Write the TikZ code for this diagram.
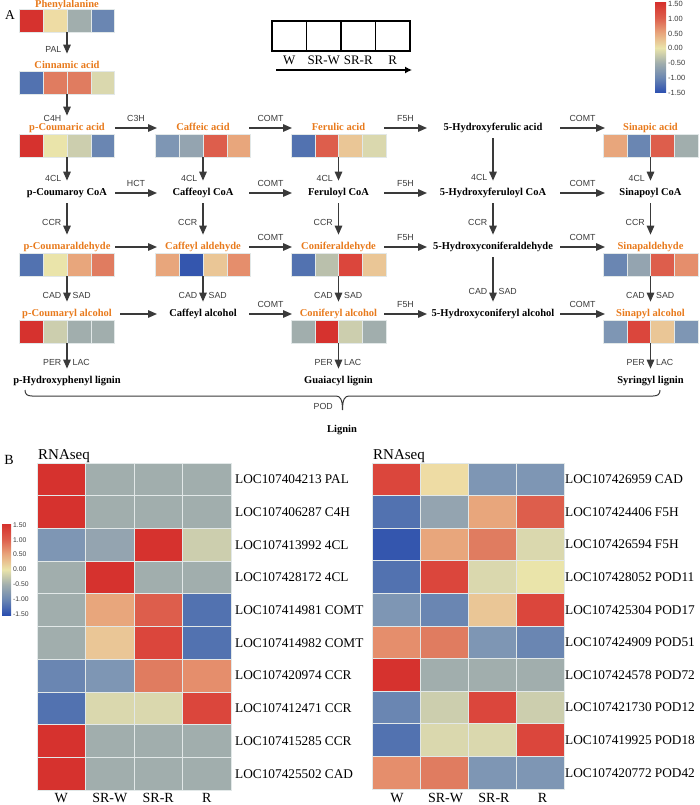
\documentclass[tikz,border=0pt]{standalone}
\usepackage{fontspec}
\setmainfont{Liberation Serif}
\newfontfamily\enzfont{Liberation Sans}
\usetikzlibrary{arrows.meta,calc}

% heat map palette
\definecolor{hR}{RGB}{214,50,46}
\definecolor{hRr}{RGB}{219,70,60}
\definecolor{hRo}{RGB}{221,94,76}
\definecolor{hS}{RGB}{224,124,96}
\definecolor{hSl}{RGB}{229,142,108}
\definecolor{hP}{RGB}{232,166,124}
\definecolor{hLp}{RGB}{234,198,150}
\definecolor{hLy}{RGB}{238,220,164}
\definecolor{hY}{RGB}{234,228,170}
\definecolor{hO}{RGB}{218,216,174}
\definecolor{hOg}{RGB}{204,206,174}
\definecolor{hGo}{RGB}{186,192,172}
\definecolor{hG}{RGB}{161,174,173}
\definecolor{hGb}{RGB}{148,164,176}
\definecolor{hBg}{RGB}{126,150,180}
\definecolor{hBm}{RGB}{106,134,178}
\definecolor{hB}{RGB}{82,114,176}
\definecolor{hBd}{RGB}{52,86,174}
\definecolor{hBx}{RGB}{42,78,176}
\definecolor{cellgap}{RGB}{226,232,232}
\definecolor{orangetxt}{RGB}{232,122,28}
\definecolor{arrowgrey}{RGB}{58,58,58}

\pgfdeclareverticalshading{heatbar}{100bp}{color(0bp)=(hBx); color(25bp)=(hBx);
  color(33.33bp)=(hBm); color(41.67bp)=(hG); color(50bp)=(hY); color(58.33bp)=(hP);
  color(66.67bp)=(hRo); color(75bp)=(hR); color(100bp)=(hR)}

% one row of four coloured cells under a compound name
\newcommand{\hstrip}[7]{%
  \node[stripbox] (#1) at (#2,#3) {};
  \foreach \col [count=\k from 0] in {#4,#5,#6,#7}
    \filldraw[fill=\col,draw=cellgap,line width=0.4pt] (#1.north west) ++(\k*23.75,0) rectangle ++(23.75,23);
}

\begin{document}
\begin{tikzpicture}[x=1pt,y=-1pt,>={Triangle[length=9pt,width=7.5pt]},
  flow/.style={->,line width=1.4pt,draw=arrowgrey},
  totitle/.style={shorten >=7.5pt},
  fromtitle/.style={shorten <=5.5pt},
  title/.style={font=\fontsize{10.5}{12}\selectfont\bfseries,text=orangetxt,inner sep=0pt,text height=7pt,text depth=2.3pt},
  cpd/.style={title,text=black},
  enz/.style={font=\enzfont\fontsize{8.8}{10}\selectfont,text=arrowgrey,inner sep=0pt},
  stripbox/.style={anchor=north,minimum width=95pt,minimum height=23pt,inner sep=0pt,outer sep=0pt},
  legcell/.style={draw,line width=1.2pt,minimum width=34.5pt,minimum height=30pt,anchor=north west,inner sep=0pt,outer sep=0pt},
  legtxt/.style={font=\fontsize{13}{15}\selectfont,inner sep=0pt},
  gene/.style={font=\fontsize{13.3}{15}\selectfont,anchor=west,inner sep=0pt},
  coltxt/.style={font=\fontsize{14}{16}\selectfont,anchor=base,inner sep=0pt},
  bartxt/.style={font=\enzfont\fontsize{7.5}{8}\selectfont,anchor=west,inner sep=0pt,text=arrowgrey},
  cell/.style={draw=cellgap,line width=0.8pt}]

\useasboundingbox (0,0) rectangle (699,805);

%----------------------------------------
% Panel A
%----------------------------------------
\node[font=\fontsize{13.5}{15}\selectfont] (pA) at (10,15) {A};

% legend of the four samples
\foreach \lab [count=\k from 0] in {W,SR-W,SR-R,R} {
  \node[legcell] (lg\k) at (272+\k*34.5,21) {};
  \node[legtxt] (lt\k) at ($(lg\k.south)+(0,9)$) {\lab};
}
\draw[line width=1.2pt,-{Latex[length=7pt,width=7pt]}] ($(lg0.south west)+(4,19)$) -- ($(lg3.south east)+(2,19)$);

% colour scale
\shade[shading=heatbar] (655,3) rectangle (666,93);
\foreach \v [count=\k from 0] in {1.50,1.00,0.50,0.00,-0.50,-1.00,-1.50}
  \node[bartxt] at (668,4+\k*14.8) {\v};

% column anchors of the horizontal steps
\coordinate (o1) at (115,0);
\coordinate (i2) at (157,0);
\coordinate (o2) at (249,0);
\coordinate (i3) at (292,0);
\coordinate (o3) at (384,0);
\coordinate (i4) at (427,0);
\coordinate (o4) at (560,0);
\coordinate (i5) at (605,0);

% compounds
\node[title] (tPhe) at (67,5.5) {Phenylalanine};
\node[title] (tCin) at (67,66) {Cinnamic acid};
\node[title] (tPcou) at (67,128) {p-Coumaric acid};
\node[title] (tCaf) at (203,128) {Caffeic acid};
\node[title] (tFer) at (338.5,128) {Ferulic acid};
\node[cpd]   (tHfer) at (493,128) {5-Hydroxyferulic acid};
\node[title] (tSin) at (650.5,128) {Sinapic acid};

\node[cpd] (tPcoa) at (67,193) {p-Coumaroy CoA};
\node[cpd] (tCfcoa) at (203,193) {Caffeoyl CoA};
\node[cpd] (tFrcoa) at (338.5,193) {Feruloyl CoA};
\node[cpd] (tHcoa) at (493,193) {5-Hydroxyferuloyl CoA};
\node[cpd] (tSncoa) at (650.5,193) {Sinapoyl CoA};

\node[title] (tPald) at (67,247) {p-Coumaraldehyde};
\node[title] (tCfald) at (203,247) {Caffeyl aldehyde};
\node[title] (tCnald) at (338.5,247) {Coniferaldehyde};
\node[cpd]   (tHald) at (493,247) {5-Hydroxyconiferaldehyde};
\node[title] (tSnald) at (650.5,247) {Sinapaldehyde};

\node[title] (tPalc) at (67,314) {p-Coumaryl alcohol};
\node[cpd]   (tCfalc) at (203,314) {Caffeyl alcohol};
\node[title] (tCnalc) at (338.5,314) {Coniferyl alcohol};
\node[cpd]   (tHalc) at (493,314) {5-Hydroxyconiferyl alcohol};
\node[title] (tSnalc) at (650.5,314) {Sinapyl alcohol};

\node[cpd] (tHlig) at (67,381) {p-Hydroxyphenyl lignin};
\node[cpd] (tGlig) at (338.5,381) {Guaiacyl lignin};
\node[cpd] (tSlig) at (650.5,381) {Syringyl lignin};

% expression strips
\hstrip{sPhe}{67}{9.5}{hR}{hLy}{hG}{hBm}
\hstrip{sCin}{67}{71}{hB}{hS}{hS}{hO}
\hstrip{sPcou}{67}{134}{hR}{hY}{hOg}{hBm}
\hstrip{sCaf}{203}{134}{hBg}{hGb}{hRo}{hP}
\hstrip{sFer}{338.5}{134}{hB}{hRo}{hLp}{hO}
\hstrip{sSin}{650.5}{134}{hP}{hBm}{hRo}{hG}
\hstrip{sPald}{67}{253}{hB}{hY}{hP}{hS}
\hstrip{sCfald}{203}{253}{hP}{hBd}{hLp}{hSl}
\hstrip{sCnald}{338.5}{253}{hB}{hGo}{hRr}{hLp}
\hstrip{sSnald}{650.5}{253}{hBm}{hGb}{hRo}{hSl}
\hstrip{sPalc}{67}{320}{hR}{hOg}{hG}{hG}
\hstrip{sCnalc}{338.5}{320}{hG}{hR}{hOg}{hG}
\hstrip{sSnalc}{650.5}{320}{hBg}{hRr}{hLp}{hBg}

% vertical steps
\draw[flow,totitle] (sPhe.south) -- (tCin.north) node[pos=0.6,enz,left=5pt] {PAL};
\draw[flow,totitle] (sCin.south) -- (tPcou.north) node[pos=0.85,enz,left=5pt] {C4H};
\draw[flow,totitle] (sPcou.south) -- (tPcoa.north) node[pos=0.7,enz,left=5pt] {4CL};
\draw[flow,fromtitle,totitle] (tPcoa.south) -- (tPald.north) node[pos=0.55,enz,left=5pt] {CCR};
\draw[flow,totitle] (sPald.south) -- (tPalc.north) node[pos=0.6,enz,left=5pt] {CAD} node[pos=0.6,enz,right=5pt] {SAD};
\draw[flow,totitle] (sPalc.south) -- (tHlig.north) node[pos=0.6,enz,left=5pt] {PER} node[pos=0.6,enz,right=5pt] {LAC};

\draw[flow,totitle] (sCaf.south) -- (tCfcoa.north) node[pos=0.7,enz,left=5pt] {4CL};
\draw[flow,fromtitle,totitle] (tCfcoa.south) -- (tCfald.north) node[pos=0.55,enz,left=5pt] {CCR};
\draw[flow,totitle] (sCfald.south) -- (tCfalc.north) node[pos=0.6,enz,left=5pt] {CAD} node[pos=0.6,enz,right=5pt] {SAD};

\draw[flow,totitle] (sFer.south) -- (tFrcoa.north) node[pos=0.7,enz,left=5pt] {4CL};
\draw[flow,fromtitle,totitle] (tFrcoa.south) -- (tCnald.north) node[pos=0.55,enz,left=5pt] {CCR};
\draw[flow,totitle] (sCnald.south) -- (tCnalc.north) node[pos=0.6,enz,left=5pt] {CAD} node[pos=0.6,enz,right=5pt] {SAD};
\draw[flow,totitle] (sCnalc.south) -- (tGlig.north) node[pos=0.6,enz,left=5pt] {PER} node[pos=0.6,enz,right=5pt] {LAC};

\draw[flow,fromtitle,totitle] (tHfer.south) -- (tHcoa.north) node[pos=0.8,enz,left=5pt] {4CL};
\draw[flow,fromtitle,totitle] (tHcoa.south) -- (tHald.north) node[pos=0.55,enz,left=5pt] {CCR};
\draw[flow,fromtitle,totitle] (tHald.south) -- (tHalc.north) node[pos=0.7,enz,left=5pt] {CAD} node[pos=0.7,enz,right=5pt] {SAD};

\draw[flow,totitle] (sSin.south) -- (tSncoa.north) node[pos=0.7,enz,left=5pt] {4CL};
\draw[flow,fromtitle,totitle] (tSncoa.south) -- (tSnald.north) node[pos=0.55,enz,left=5pt] {CCR};
\draw[flow,totitle] (sSnald.south) -- (tSnalc.north) node[pos=0.6,enz,left=5pt] {CAD} node[pos=0.6,enz,right=5pt] {SAD};
\draw[flow,totitle] (sSnalc.south) -- (tSlig.north) node[pos=0.6,enz,left=5pt] {PER} node[pos=0.6,enz,right=5pt] {LAC};

% horizontal steps
\draw[flow] (tPcou -| o1) -- (tCaf -| i2) node[midway,enz,above=6pt] {C3H};
\draw[flow] (tCaf -| o2) -- (tFer -| i3) node[midway,enz,above=6pt] {COMT};
\draw[flow] (tFer -| o3) -- (tHfer -| i4) node[midway,enz,above=6pt] {F5H};
\draw[flow] (tHfer -| o4) -- (tSin -| i5) node[midway,enz,above=6pt] {COMT};

\draw[flow] (tPcoa -| o1) -- (tCfcoa -| i2) node[midway,enz,above=6pt] {HCT};
\draw[flow] (tCfcoa -| o2) -- (tFrcoa -| i3) node[midway,enz,above=6pt] {COMT};
\draw[flow] (tFrcoa -| o3) -- (tHcoa -| i4) node[midway,enz,above=6pt] {F5H};
\draw[flow] (tHcoa -| o4) -- (tSncoa -| i5) node[midway,enz,above=6pt] {COMT};

\draw[flow] (tPald -| o1) -- (tCfald -| i2);
\draw[flow] (tCfald -| o2) -- (tCnald -| i3) node[midway,enz,above=6pt] {COMT};
\draw[flow] (tCnald -| o3) -- (tHald -| i4) node[midway,enz,above=6pt] {F5H};
\draw[flow] (tHald -| o4) -- (tSnald -| i5) node[midway,enz,above=6pt] {COMT};

\draw[flow] ($(tPalc -| o1)+(5,0)$) -- (tCfalc -| i2);
\draw[flow] (tCfalc -| o2) -- (tCnalc -| i3) node[midway,enz,above=6pt] {COMT};
\draw[flow] (tCnalc -| o3) -- (tHalc -| i4) node[midway,enz,above=6pt] {F5H};
\draw[flow] (tHalc -| o4) -- (tSnalc -| i5) node[midway,enz,above=6pt] {COMT};

% brace over the three lignins
\draw[line width=1pt,arrowgrey] (25,390) .. controls (25,394) and (27,396) .. (32,396) -- (336,396)
  .. controls (340,396) and (342.5,399) .. (342.5,410)
  .. controls (342.5,399) and (345,396) .. (349,396) -- (653,396)
  .. controls (658,396) and (660,394) .. (660,390);
\node[enz,anchor=east] (pod) at (333,406) {POD};
\node[cpd] (lig) at (342,430) {Lignin};

%----------------------------------------
% Panel B
%----------------------------------------
\node[font=\fontsize{14}{16}\selectfont] (pB) at (9,460) {B};

\shade[shading=heatbar] (2,524) rectangle (11,615);
\foreach \v [count=\k from 0] in {1.50,1.00,0.50,0.00,-0.50,-1.00,-1.50}
  \node[bartxt,font=\enzfont\fontsize{6.8}{7}\selectfont] at (13,525+\k*14.8) {\v};

% left heat map
\node[font=\fontsize{15}{17}\selectfont,anchor=base west,inner sep=0pt] (rnaL) at (38,459) {RNAseq};
\foreach \ca/\cb/\cc/\cd/\gene [count=\row from 0] in {
  hR/hG/hG/hG/LOC107404213 PAL,
  hR/hG/hG/hG/LOC107406287 C4H,
  hBg/hGb/hR/hOg/LOC107413992 4CL,
  hG/hR/hG/hG/LOC107428172 4CL,
  hG/hP/hRo/hB/LOC107414981 COMT,
  hG/hLp/hRr/hB/LOC107414982 COMT,
  hBm/hBg/hS/hSl/LOC107420974 CCR,
  hB/hO/hO/hRr/LOC107412471 CCR,
  hR/hG/hG/hG/LOC107415285 CCR,
  hR/hG/hG/hG/LOC107425502 CAD} {
  \foreach \col [count=\k from 0] in {\ca,\cb,\cc,\cd}
    \filldraw[fill=\col,cell] (37+\k*48.5,463+\row*32.7) rectangle ++(48.5,32.7);
  \node[gene] (gL\row) at (235,479.35+\row*32.7) {\gene};
}
\foreach \lab [count=\k from 0] in {W,SR-W,SR-R,R}
  \node[coltxt] (cL\k) at (61.25+\k*48.5,802) {\lab};

% right heat map
\node[font=\fontsize{15}{17}\selectfont,anchor=base west,inner sep=0pt] (rnaR) at (373,459) {RNAseq};
\foreach \ca/\cb/\cc/\cd/\gene [count=\row from 0] in {
  hRr/hLy/hBg/hBg/LOC107426959 CAD,
  hB/hGb/hP/hRo/LOC107424406 F5H,
  hBd/hP/hS/hO/LOC107426594 F5H,
  hB/hRr/hO/hY/LOC107428052 POD11,
  hBg/hBm/hLp/hRr/LOC107425304 POD17,
  hSl/hS/hBg/hBm/LOC107424909 POD51,
  hR/hG/hG/hG/LOC107424578 POD72,
  hBm/hOg/hRr/hOg/LOC107421730 POD12,
  hB/hO/hO/hRr/LOC107419925 POD18,
  hSl/hS/hBg/hBg/LOC107420772 POD42} {
  \foreach \col [count=\k from 0] in {\ca,\cb,\cc,\cd}
    \filldraw[fill=\col,cell] (372+\k*48,463+\row*32.6) rectangle ++(48,32.6);
  \node[gene] (gR\row) at (565,479.3+\row*32.6) {\gene};
}
\foreach \lab [count=\k from 0] in {W,SR-W,SR-R,R}
  \node[coltxt] (cR\k) at (397+\k*48.5,802) {\lab};

\end{tikzpicture}
\end{document}
